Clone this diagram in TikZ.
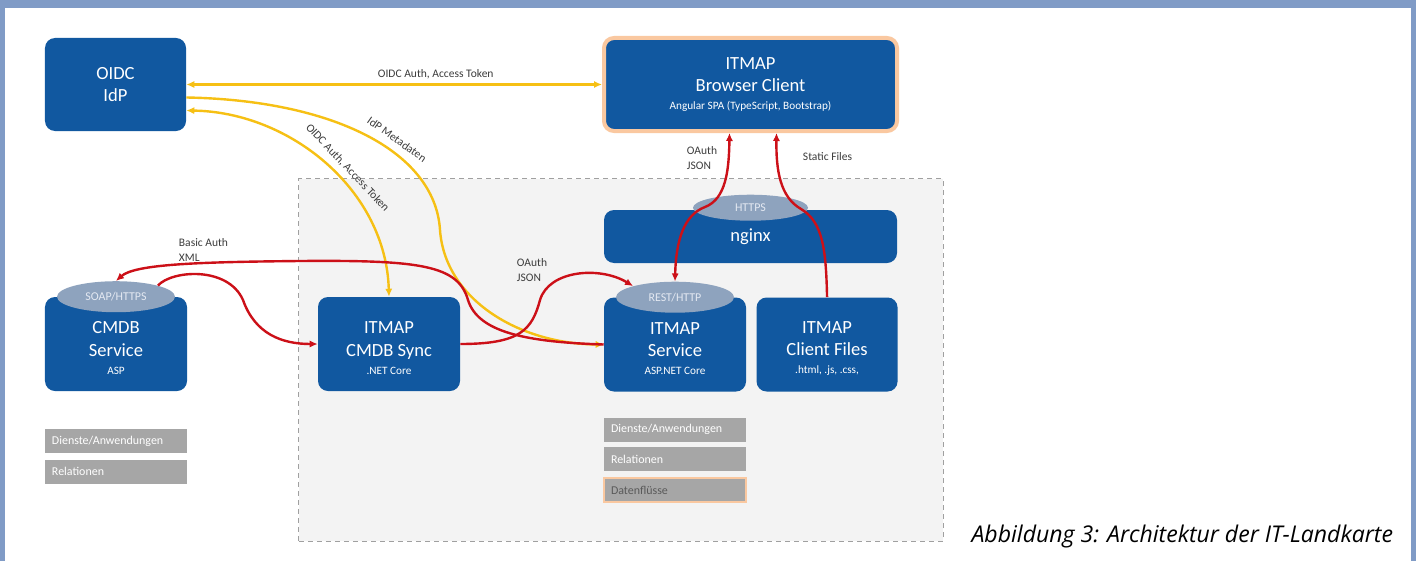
\documentclass[tikz,border=0pt]{standalone}
\usepackage{fontspec}
\setmainfont{Carlito}
\newfontfamily\capfont{Open Sans}
\usetikzlibrary{arrows.meta,positioning,shapes.geometric,calc}
\definecolor{itblue}{RGB}{17,88,160}
\definecolor{portgrey}{RGB}{142,163,190}
\definecolor{porttext}{RGB}{228,233,242}
\definecolor{linkred}{RGB}{204,16,24}
\definecolor{linkyellow}{RGB}{246,192,20}
\definecolor{framegrey}{RGB}{128,155,198}
\definecolor{zonegrey}{RGB}{243,243,243}
\definecolor{zoneline}{RGB}{160,160,160}
\definecolor{legendgrey}{RGB}{166,166,166}
\definecolor{glow}{RGB}{250,200,160}
\definecolor{labelgrey}{RGB}{60,60,60}
\newcommand{\boxfont}{\fontsize{13.2pt}{16pt}\selectfont}
\newcommand{\subfont}{\fontsize{8pt}{9.6pt}\selectfont}
\newcommand{\lblfont}{\fontsize{8.2pt}{11pt}\selectfont}
\tikzset{
    >={Latex[length=2mm,width=1.8mm]},
    box/.style    = {fill=itblue, text=white, rounded corners=2.5mm,
            align=center, font=\boxfont, inner sep=0pt,
            minimum width=35.5mm, minimum height=23.5mm},
    port/.style   = {ellipse, fill=portgrey, text=porttext, inner sep=0pt,
            font=\fontsize{8.5pt}{10pt}\selectfont,
            minimum width=29.5mm, minimum height=7.75mm},
    ylink/.style  = {line width=0.6mm, draw=linkyellow},
    rlink/.style  = {line width=0.6mm, draw=linkred},
    lbl/.style    = {text=labelgrey, font=\lblfont, align=left},
    legend/.style = {fill=legendgrey, text=white, font=\fontsize{8.5pt}{10pt}\selectfont,
            align=left, text width=32mm, inner xsep=1.75mm, inner ysep=0pt,
            minimum height=6mm},
    zone/.style   = {fill=zonegrey, draw=zoneline, dash pattern=on 1.25mm off 1mm,
            line width=0.25mm, minimum width=161mm, minimum height=90.5mm},
}
\begin{document}
\begin{tikzpicture}[x=0.25mm, y=-0.25mm]
    \useasboundingbox (0,0) rectangle (1416,561);
    % frame
    \fill[framegrey] (0,0) rectangle (1416,561);
    \fill[white] (5,8) rectangle (1411,561);
    \node[zone] (zone) at (621,360) {};
    % Nodes
    \node[box, minimum width=35.25mm, minimum height=23.25mm] (oidc) at (115.5,84.5) {OIDC\\IdP};
    \node[box, draw=glow, line width=1mm, minimum width=73.25mm, minimum height=23.25mm] (client) at (750.5,84.5)
        {ITMAP\\Browser Client\\[-3pt]{\subfont Angular SPA (TypeScript, Bootstrap)}};
    \node[box, minimum width=73.25mm, minimum height=13.25mm] (nginx) at (750.5,236.5) {nginx};
    \node[box] (cmdb) at (116,344) {\strut\\[-13pt]CMDB\\Service\\[-3pt]{\subfont ASP}};
    \node[box] (sync) at (389,344) {\strut\\[-13pt]ITMAP\\CMDB Sync\\[-3pt]{\subfont .NET Core}};
    \node[box] (svc) at (675,344.5) {\strut\\[-13pt]ITMAP\\Service\\[-3pt]{\subfont ASP.NET Core}};
    \node[box, minimum width=35.25mm, right=2.5mm of svc] (files) {\strut\\[-13pt]ITMAP\\Client Files\\[-3pt]{\subfont .html, .js, .css,}};
    \node[port] (soap) at (cmdb.north) {SOAP/HTTPS};
    \node[port] (rest) at (svc.north) {REST/HTTP};
    \node[port, minimum width=28.75mm, minimum height=6.5mm] (https) at ($(nginx.north)+(0,-2)$) {HTTPS};
    % Legend
    \node[legend] (dienstL) at (116,441) {Dienste/Anwendungen};
    \node[legend, below=1.5mm of dienstL] (relL) {Relationen};
    \node[legend] (dienstZ) at (675,429.5) {Dienste/Anwendungen};
    \node[legend, below=1.3mm of dienstZ] (relZ) {Relationen};
    \node[legend, draw=glow, line width=0.6mm, text={rgb,255:red,90;green,90;blue,90},
        below=1.3mm of relZ] (flussZ) {Datenfl\"usse};
    % Yellow flows
    \draw[ylink, <->] (oidc) -- node[lbl, above, pos=0.6] {OIDC Auth, Access Token} (client);
    \draw[ylink, ->] ($(oidc.east)+(0,13)$) .. controls (330,100) and (435,150) .. (440,230)
        node[lbl, pos=0.6, sloped, above=0.6mm] {IdP Metadaten}
        .. controls (445,300) and (520,344) .. (svc.west);
    \draw[ylink, <->] ($(oidc.east)+(0,26)$) .. controls (290,112) and (386,190) .. (sync.north)
        node[lbl, pos=0.56, sloped, above=0.5mm] {OIDC Auth, Access Token};
    % Red flows
    \draw[rlink, ->] (soap.north east) .. controls (172,270) and (228,266) .. (243,300)
        .. controls (255,334) and (282,344) .. (sync.west);
    \draw[rlink, ->] (svc.west) .. controls (525,342) and (478,332) .. (468,300)
        .. controls (458,265) and (420,260) .. (300,261)
        .. controls (200,262) and (135,264) .. (soap.north);
    \draw[rlink, ->] (sync.east) .. controls (520,344) and (532,330) .. (540,300)
        .. controls (549,270) and (600,266) .. (rest.north west);
    \draw[rlink, <->] (rest.north) .. controls (676,240) and (684,215) .. (705,207)
        .. controls (726,199) and (729,170) .. ($(client.south)+(-21,0)$);
    \draw[rlink, ->] (files.north) .. controls (826,250) and (823,222) .. (801,209)
        .. controls (780,197) and (776,170) .. ($(client.south)+(26,0)$);
    % Labels
    \node[lbl, anchor=west] (lblBasic) at (174,250) {Basic Auth\\XML};
    \node[lbl, anchor=west] (lblOauthA) at (512,270) {OAuth\\JSON};
    \node[lbl, anchor=west] (lblOauthB) at (682,158) {OAuth\\JSON};
    \node[lbl, anchor=west] (lblStatic) at (798,157) {Static Files};
    \node[anchor=base east, font={\capfont\itshape\fontsize{16.4pt}{19pt}\selectfont}] (caption)
        at (1398,542) {Abbildung 3: Architektur der IT-Landkarte};
\end{tikzpicture}
\end{document}
